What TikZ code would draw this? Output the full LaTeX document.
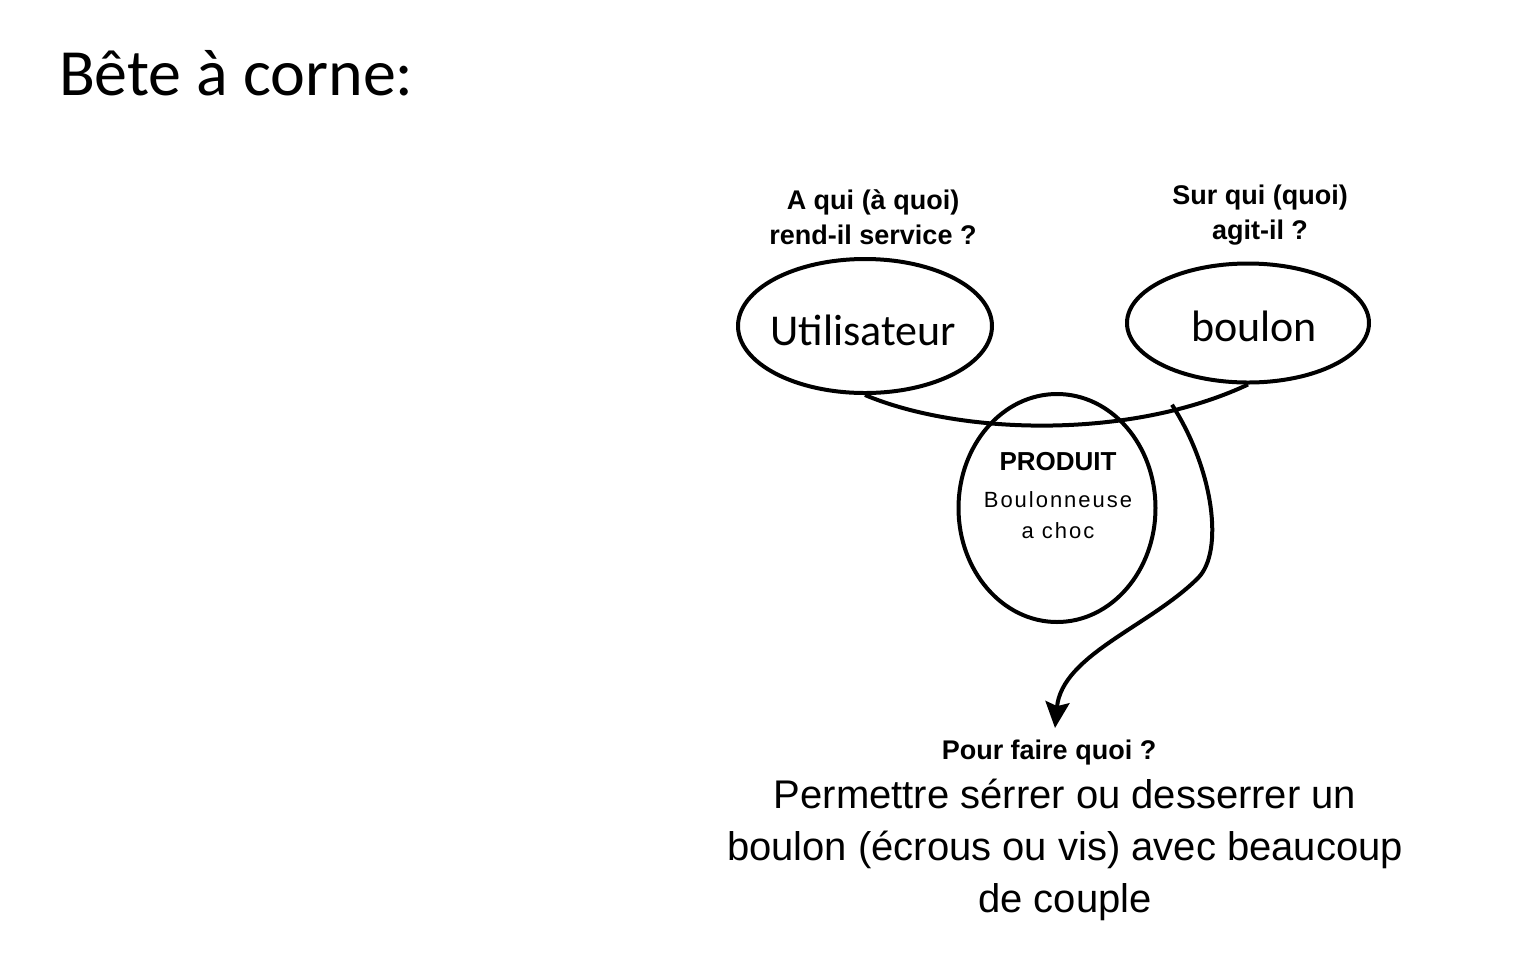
\documentclass[tikz,border=0pt]{standalone}
\usepackage{fontspec}
\setmainfont{Carlito}
\newfontfamily\narrowfont{Liberation Sans}
\newfontfamily\widefont[LetterSpace=9]{Liberation Sans}
\usetikzlibrary{arrows.meta, shapes.geometric}
\tikzset{%
	every horn/.style={
		ellipse,
		draw,
		line width=2pt,
		inner sep=0pt
	},
	horn question/.style={
		align=center,
		font=\narrowfont\bfseries\fontsize{13.5}{17.5}\selectfont
	},
	horn name/.style={
		font=\fontsize{22}{26}\selectfont
	},
}
\begin{document}
\begin{tikzpicture}[x=0.5pt, y=-0.5pt, >={Stealth[length=13pt, width=12pt, inset=2pt]}]
	\useasboundingbox (0,0) rectangle (1523,955);

	\node [anchor=base west, font=\fontsize{33}{38}\selectfont] (title) at (52,95) {Bête à corne:};

	\node [every horn, minimum width=127pt, minimum height=67pt] (utilisateur) at (865,326) {};
	\node [horn name] (utilisateur-text) at (863,330) {Utilisateur};
	\node [every horn, minimum width=121pt, minimum height=59.5pt] (boulon) at (1248,323) {};
	\node [horn name] (boulon-text) at (1254,326) {boulon};
	\node [every horn, minimum width=98.5pt, minimum height=114pt] (produit) at (1057,508) {};

	\node [horn question] (q-service) at (873,217) {A qui (à quoi)\\rend-il service ?};
	\node [horn question] (q-agit) at (1260,215) {Sur qui (quoi)\\agit-il ?};

	\node [align=center, font=\widefont\fontsize{11}{15.5}\selectfont] (produit-text) at (1058,496)
		{{\narrowfont\fontsize{13}{18}\selectfont\bfseries PRODUIT}\\[3pt]Boulonneuse\\a choc};

	% corne
	\draw [line width=2pt] (utilisateur.south) .. controls (960,435) and (1130,440) .. (boulon.south)
		coordinate [pos=0.8] (corne);

	\coordinate (fonction) at (1055,728);
	\draw [->, line width=2pt] ([yshift=3pt]corne) .. controls (1214,470) and (1224,552) .. (1198,578)
		.. controls (1150,626) and (1062,655) .. (fonction);

	\node [horn question] (q-but) at (1049,753) {Pour faire quoi ?};
	\node [align=center, anchor=north, inner sep=0pt, font=\narrowfont\fontsize{20}{26}\selectfont] (but) at (1065,779)
		{Permettre sérrer ou desserrer un\\boulon (écrous ou vis) avec beaucoup\\de couple};
\end{tikzpicture}
\end{document}
